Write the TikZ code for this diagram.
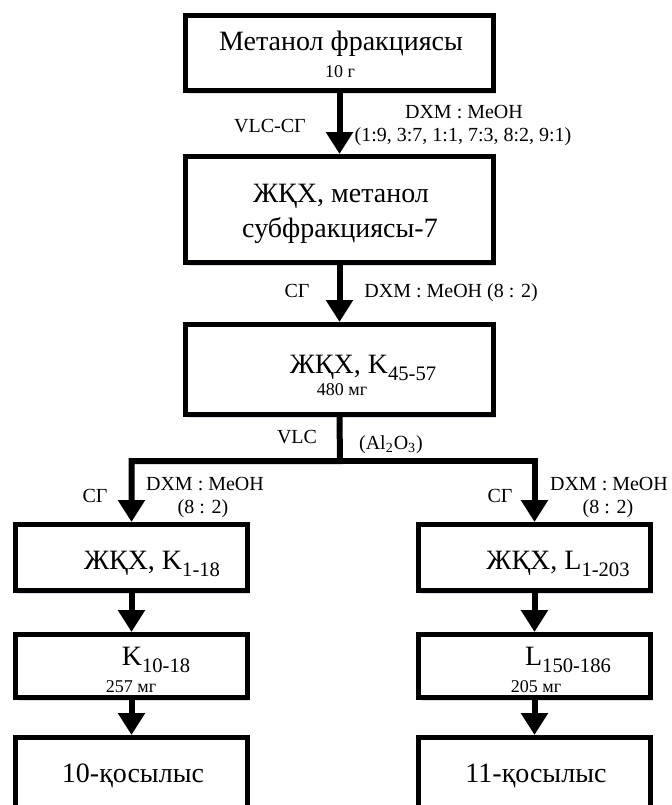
\documentclass[tikz,border=0pt]{standalone}
\usepackage{fontspec}
\setmainfont{Liberation Serif}
\usetikzlibrary{arrows.meta,shadows}

% fraction index, set lower and smaller than \textsubscript
\newcommand{\fracidx}[1]{\raisebox{-0.27em}{\fontsize{10.3}{12}\selectfont #1}}

\begin{document}
\begin{tikzpicture}
          [x=0.5pt,y=-0.5pt,
           box/.style={draw=black,line width=2.5pt,fill=white,inner sep=0pt,
             drop shadow={shadow xshift=1pt,shadow yshift=-1.5pt,fill=blue!30!gray,opacity=.2}},
           big/.style={anchor=base,inner sep=0pt,font=\fontsize{14}{16}\selectfont},
           mass/.style={anchor=base,inner sep=0pt,font=\fontsize{9}{11}\selectfont},
           lbl/.style={anchor=base,inner sep=0pt,font=\fontsize{10}{12}\selectfont},
           flow/.style={line width=3pt,-{Triangle[width=13pt,length=11pt]}}]
          \useasboundingbox (0,0) rectangle (671,805);
          \clip (0,0) rectangle (671,805);

          % boxes
          \node[box,minimum width=154pt,minimum height=37.5pt] (frac) at (339.5,53) {};
          \node[box,minimum width=154pt,minimum height=53pt] (sub7) at (339.5,209.5) {};
          \node[box,minimum width=154pt,minimum height=45pt] (k4557) at (339.5,369.5) {};
          \node[box,minimum width=116pt,minimum height=33pt] (k118) at (131.5,557.5) {};
          \node[box,minimum width=116pt,minimum height=33pt] (l1203) at (534.5,557.5) {};
          \node[box,minimum width=116pt,minimum height=31.5pt] (k1018) at (131.5,666) {};
          \node[box,minimum width=116pt,minimum height=31.5pt] (l150) at (534.5,666) {};
          \node[box,minimum width=116pt,minimum height=37.5pt] (c10) at (131.5,775) {};
          \node[box,minimum width=116pt,minimum height=37.5pt] (c11) at (534.5,775) {};

          % box texts
          \node[big] (t1) at (341,50) {Метанол фракциясы};
          \node[mass] (t1m) at (340,77) {10 г};
          \node[big] (t2) at (341,202) {ЖҚХ, метанол};
          \node[big] (t2b) at (340,237) {субфракциясы-7};
          \node[big] (t3) at (363,373) {ЖҚХ, K\fracidx{45-57}};
          \node[mass] (t3m) at (342,395) {480 мг};
          \node[big] (t4) at (152,569) {ЖҚХ, K\fracidx{1-18}};
          \node[big] (t5) at (558,569) {ЖҚХ, L\fracidx{1-203}};
          \node[big] (t6) at (156,665) {K\fracidx{10-18}};
          \node[mass] (t6m) at (131,692) {257 мг};
          \node[big] (t7) at (568,665) {L\fracidx{150-186}};
          \node[mass] (t7m) at (536,692) {205 мг};
          \node[big] (t8) at (133,782) {10-қосылыс};
          \node[big] (t9) at (536,782) {11-қосылыс};

          % arrow labels
          \node[lbl] (v1) at (270,132) {VLC-СГ};
          \node[lbl] (e1) at (464,118) {DXM : MeOH};
          \node[lbl] (e1b) at (463,141) {(1:9, 3:7, 1:1, 7:3, 8:2, 9:1)};
          \node[lbl] (s2) at (297,297) {СГ};
          \node[lbl,anchor=base west] (e2) at (364,297) {DXM : MeOH (8 : 2)};
          \node[lbl] (v3) at (297,443) {VLC};
          \node[lbl] (al) at (391,449) {(Al\textsubscript{2}O\textsubscript{3})};
          \node[lbl] (s4) at (95,502) {СГ};
          \node[lbl] (e4) at (205,490) {DXM : MeOH};
          \node[lbl] (e4b) at (203,513) {(8 : 2)};
          \node[lbl] (s5) at (500,502) {СГ};
          \node[lbl] (e5) at (609,490) {DXM : MeOH};
          \node[lbl] (e5b) at (608,513) {(8 : 2)};

          % connectors
          \coordinate (split) at (340,461);
          \foreach \from/\to in {frac/sub7,sub7/k4557,k118/k1018,k1018/c10,l1203/l150,l150/c11}
            \draw[flow] (\from.south) -- (\to.north);
          \draw[flow] (k4557.south) -- (split) -| (k118.north);
          \draw[flow] (split) -| (l1203.north);

        \end{tikzpicture}
\end{document}
